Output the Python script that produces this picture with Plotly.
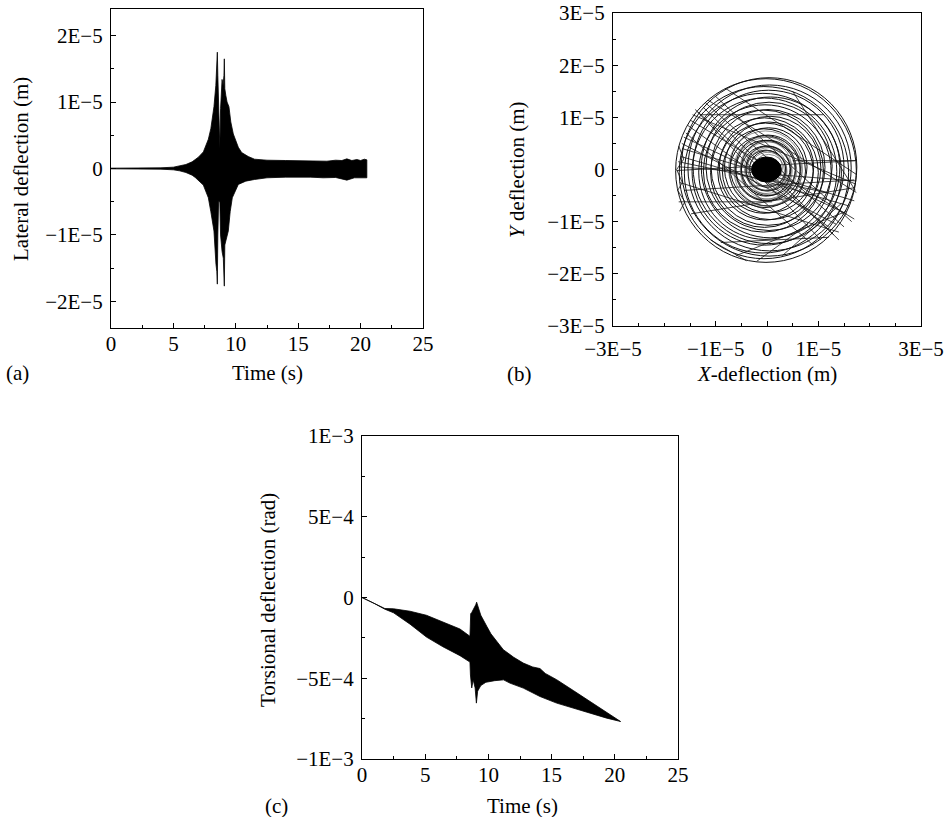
import plotly.graph_objects as go

# ---------------------------------------------------------------------------
# (a) Lateral deflection vs time: upper / lower envelope of the response band
#     (times in s, deflections in micrometres)
# ---------------------------------------------------------------------------
lat_t_upper = [0.0, 2.0, 4.0, 5.0, 5.5, 6.0, 6.5, 6.75, 7.0, 7.4, 7.8, 8.0, 8.25,
               8.4, 8.48, 8.52, 8.56, 8.62, 8.68, 8.72, 8.78, 8.85, 8.9, 8.98,
               9.05, 9.08, 9.12, 9.2, 9.3, 9.45, 9.6, 9.8, 9.94, 10.2, 10.47,
               11.0, 11.5, 12.5, 14.0, 15.0, 16.0, 17.0, 17.3, 18.0, 18.5, 18.9,
               19.3, 19.7, 20.0, 20.3, 20.5]
lat_upper = [0.05, 0.05, 0.1, 0.2, 0.35, 0.6, 1.0, 1.35, 1.7, 2.5, 4.4, 6.0, 9.3,
             12.5, 15.5, 17.5, 14.0, 8.0, 3.0, 3.0, 9.0, 12.5, 13.4, 12.5,
             14.0, 16.5, 12.0, 11.0, 10.0, 9.3, 7.0, 5.2, 4.4, 3.2, 2.4,
             1.8, 1.4, 1.25, 1.2, 1.2, 1.15, 1.2, 1.1, 1.25, 1.2, 1.45,
             1.2, 1.35, 1.2, 1.4, 1.3]
lat_t_lower = [0.0, 2.0, 4.0, 5.0, 5.5, 6.0, 6.5, 6.75, 7.0, 7.4, 7.8, 8.0, 8.25,
               8.41, 8.48, 8.52, 8.56, 8.62, 8.72, 8.78, 8.9, 9.0, 9.05, 9.08,
               9.12, 9.2, 9.4, 9.55, 9.72, 10.2, 10.8, 11.5, 12.5, 14.0, 16.0,
               17.0, 18.0, 18.9, 19.5, 20.5]
lat_lower = [-0.05, -0.05, -0.1, -0.2, -0.35, -0.6, -1.0, -1.35, -1.7, -2.5, -4.4,
             -6.5, -9.4, -14.4, -15.5, -17.4, -10.0, -5.0, -5.0, -10.0, -12.5,
             -13.5, -15.0, -17.7, -11.5, -10.9, -9.4, -6.5, -4.4, -2.4, -1.9,
             -1.65, -1.4, -1.3, -1.3, -1.4, -1.35, -1.75, -1.4, -1.4]

# ---------------------------------------------------------------------------
# (b) Whirl orbit: ring radii / centres and straight chords (micrometres)
# ---------------------------------------------------------------------------
orbit_ring_r = [17.6, 17.1, 16.5, 15.9, 15.3, 14.7, 14.1, 13.5, 12.9, 12.3,
                11.7, 11.1, 10.5, 9.9, 9.3, 8.7, 8.1, 7.5, 6.9, 6.3,
                5.8, 5.3, 4.8, 4.3, 3.9, 3.5]
orbit_ring_cx = [-0.2, 0.4, -0.6, 0.5, -0.8, 0.3, -0.5, 0.7, -0.4, 0.4,
                 -0.7, 0.2, -0.5, 0.6, -0.3, 0.4, -0.6, 0.3, -0.4, 0.2,
                 -0.3, 0.3, -0.2, 0.2, -0.2, 0.1]
orbit_ring_cy = [-0.2, 0.5, -0.6, 0.3, -0.7, 0.5, -0.4, 0.4, -0.5, 0.6,
                 -0.3, 0.4, -0.6, 0.3, -0.4, 0.4, -0.3, 0.5, -0.4, 0.3,
                 -0.2, 0.3, -0.3, 0.2, -0.2, 0.1]
# faint, tightly packed inner loops around the core
orbit_fine_r = [3.1, 3.4, 3.7, 4.1, 4.5, 5.0, 5.5, 6.0, 6.6, 7.2]
orbit_fine_cx = [0.3, -0.4, 0.2, -0.3, 0.4, -0.2, 0.3, -0.4, 0.2, -0.3]
orbit_fine_cy = [-0.2, 0.3, -0.4, 0.2, -0.3, 0.4, -0.2, 0.3, -0.4, 0.2]
orbit_core_rx = 2.9
orbit_core_ry = 2.4
orbit_core_c = (-0.1, 0.0)

orbit_chord_x0 = [-17.6, -17.0, -17.2, -14.0, -11.5, -15.5, -16.2, -13.0, -2.0,
                  17.4, -16.8, -12.5, -16.0, 5.0, -15.0, -10.0, -17.0, -14.5,
                  -9.0, -16.5, 3.0, -13.5, -16.6, -12.0, -15.8, -8.0, -17.3,
                  -14.8, -6.0, -11.0]
orbit_chord_y0 = [-0.2, 0.5, -6.2, 11.5, 13.3, 8.5, 6.2, 10.5, -17.6,
                  1.7, 2.5, 12.0, -4.0, 15.0, 9.5, 14.0, -2.5, 10.5,
                  -14.0, 4.0, -16.5, 11.0, 5.0, 12.8, 7.0, 15.5, 1.5,
                  -8.5, -16.5, -13.5]
orbit_chord_x1 = [17.4, 17.4, 1.0, 13.0, 17.4, 12.0, 15.5, 11.0, 8.0,
                  5.0, 16.0, 14.0, 17.0, 17.2, 17.0, 16.5, 14.0, 17.3,
                  12.0, 17.0, 14.5, 10.5, 13.5, 15.0, 9.0, 17.5, 12.0,
                  17.0, 15.5, -4.0]
orbit_chord_y1 = [1.7, -2.2, -6.2, -12.5, -4.4, -11.0, -8.5, 10.5, -10.5,
                  1.7, -7.0, -13.5, -2.0, -4.0, -9.5, -10.0, -12.0, -2.8,
                  -13.0, -6.0, -6.5, -13.5, -10.5, -11.0, -14.5, -1.0, -4.5,
                  -3.5, -8.0, -17.5]
orbit_zig_x = [-17.2, -16.2, -17.6, -16.5, -17.4, -16.0, -17.0]
orbit_zig_y = [4.5, 2.0, 0.0, -2.5, -4.0, -6.2, -8.0]

# ---------------------------------------------------------------------------
# (c) Torsional deflection vs time: envelope of the band (units of 1e-4 rad)
# ---------------------------------------------------------------------------
tor_t_upper = [0.0, 1.0, 1.8, 2.5, 3.8, 5.1, 6.4, 7.75, 8.54, 8.6, 8.68, 8.85,
               9.0, 9.07, 9.15, 9.4, 9.87, 10.2, 10.66, 11.18, 12.0, 12.76,
               13.5, 14.08, 14.5, 15.4, 16.72, 18.04, 19.36, 20.46]
tor_upper = [0.0, -0.38, -0.68, -0.7, -0.85, -1.1, -1.5, -1.95, -2.4, -1.0,
             -0.93, -0.7, -0.45, -0.29, -0.5, -1.1, -1.78, -2.25, -2.71, -3.23,
             -3.7, -4.06, -4.3, -4.4, -4.7, -5.09, -5.76, -6.44, -7.16, -7.68]
tor_t_lower = [0.0, 1.0, 1.8, 2.5, 3.8, 5.1, 6.4, 7.75, 8.54, 8.58, 8.68, 8.8,
               8.95, 9.05, 9.15, 9.4, 9.8, 10.5, 11.2, 11.7, 12.76, 14.08,
               15.4, 16.72, 18.04, 19.36, 20.46]
tor_lower = [0.0, -0.38, -0.72, -0.95, -1.65, -2.45, -3.05, -3.6, -4.0, -4.8,
             -5.6, -5.1, -5.6, -6.54, -5.8, -5.45, -5.25, -5.15, -5.1, -5.3,
             -5.61, -6.13, -6.54, -6.85, -7.16, -7.47, -7.68]

# Axis tick values and labels
time_ticks = [0, 5, 10, 15, 20, 25]
time_labels = ["0", "5", "10", "15", "20", "25"]
lat_ticks = [2e-5, 1e-5, 0, -1e-5, -2e-5]
lat_labels = ["2E\u22125", "1E\u22125", "0", "\u22121E\u22125", "\u22122E\u22125"]
orb_y_ticks = [3e-5, 2e-5, 1e-5, 0, -1e-5, -2e-5, -3e-5]
orb_y_labels = ["3E\u22125", "2E\u22125", "1E\u22125", "0", "\u22121E\u22125",
                "\u22122E\u22125", "\u22123E\u22125"]
orb_x_ticks = [-3e-5, -1e-5, 0, 1e-5, 3e-5]
orb_x_labels = ["\u22123E\u22125", "\u22121E\u22125", "0", "1E\u22125", "3E\u22125"]
tor_ticks = [1e-3, 5e-4, 0, -5e-4, -1e-3]
tor_labels = ["1E\u22123", "5E\u22124", "0", "\u22125E\u22124", "\u22121E\u22123"]

UM = 1e-6      # micrometre -> metre
TOR = 1e-4     # envelope unit -> rad

FONT = '"Liberation Serif", "Times New Roman", Times, serif'
BLACK = "#000000"

fig = go.Figure()

# (a) filled response band
fig.add_trace(go.Scatter(
    x=lat_t_upper + lat_t_lower[::-1],
    y=[v * UM for v in lat_upper] + [v * UM for v in lat_lower[::-1]],
    mode="lines", fill="toself", fillcolor=BLACK,
    line=dict(color=BLACK, width=0.8),
    xaxis="x", yaxis="y", hoverinfo="skip", showlegend=False))

# (b) chords of the orbit path
cx, cy = [], []
for a, b, c, d in zip(orbit_chord_x0, orbit_chord_y0, orbit_chord_x1, orbit_chord_y1):
    cx += [a * UM, c * UM, None]
    cy += [b * UM, d * UM, None]
cx += [v * UM for v in orbit_zig_x]
cy += [v * UM for v in orbit_zig_y]
fig.add_trace(go.Scatter(
    x=cx, y=cy, mode="lines", line=dict(color="#111111", width=0.8),
    xaxis="x2", yaxis="y2", hoverinfo="skip", showlegend=False, connectgaps=False))

# (c) filled torsional band
fig.add_trace(go.Scatter(
    x=tor_t_upper + tor_t_lower[::-1],
    y=[v * TOR for v in tor_upper] + [v * TOR for v in tor_lower[::-1]],
    mode="lines", fill="toself", fillcolor=BLACK,
    line=dict(color=BLACK, width=0.8),
    xaxis="x3", yaxis="y3", hoverinfo="skip", showlegend=False))

# (b) orbit rings and dense core drawn as circles in data coordinates
shapes = []
for r, x0, y0 in zip(orbit_ring_r, orbit_ring_cx, orbit_ring_cy):
    shapes.append(dict(type="circle", xref="x2", yref="y2",
                       x0=(x0 - r) * UM, x1=(x0 + r) * UM,
                       y0=(y0 - r) * UM, y1=(y0 + r) * UM,
                       line=dict(color="#111111", width=1)))
for r, x0, y0 in zip(orbit_fine_r, orbit_fine_cx, orbit_fine_cy):
    shapes.append(dict(type="circle", xref="x2", yref="y2",
                       x0=(x0 - r) * UM, x1=(x0 + r) * UM,
                       y0=(y0 - r) * UM, y1=(y0 + r) * UM,
                       line=dict(color="#444444", width=0.6)))
shapes.append(dict(type="circle", xref="x2", yref="y2",
                   x0=(orbit_core_c[0] - orbit_core_rx) * UM,
                   x1=(orbit_core_c[0] + orbit_core_rx) * UM,
                   y0=(orbit_core_c[1] - orbit_core_ry) * UM,
                   y1=(orbit_core_c[1] + orbit_core_ry) * UM,
                   fillcolor=BLACK, line=dict(color=BLACK, width=1)))


def axis(domain, anchor, rng, tickvals, ticktext, minor_dtick, standoff):
    return dict(
        domain=domain, anchor=anchor, range=rng, autorange=False, automargin=False,
        tickmode="array", tickvals=tickvals, ticktext=ticktext,
        ticks="inside", ticklen=5, tickwidth=1, tickcolor=BLACK,
        minor=dict(ticks="inside", ticklen=3, tickwidth=1, tickcolor=BLACK,
                   tickmode="linear", tick0=0, dtick=minor_dtick, showgrid=False),
        showline=True, linecolor=BLACK, linewidth=1.2, mirror=True,
        showgrid=False, zeroline=False, ticklabelstandoff=standoff,
        tickfont=dict(family=FONT, size=21, color=BLACK), fixedrange=True)


W, H = 952, 817
XS, YS = -3, 3   # tick-label standoffs for horizontal / vertical axes
XS_ORBIT = 4     # orbit x labels sit a little lower, clear of the y labels
layout = dict(
    width=W, height=H, margin=dict(l=0, r=0, t=0, b=0, pad=0), autosize=False,
    paper_bgcolor="white", plot_bgcolor="white", showlegend=False,
    font=dict(family=FONT, size=21, color=BLACK),
    xaxis=axis([111 / W, 423 / W], "y", [0, 25], time_ticks, time_labels, 2.5, XS),
    yaxis=axis([1 - 328 / H, 1 - 9 / H], "x", [-2.4e-5, 2.4e-5], lat_ticks, lat_labels, 0.5e-5, YS),
    xaxis2=axis([613 / W, 921 / W], "y2", [-3e-5, 3e-5], orb_x_ticks, orb_x_labels, 0.5e-5, XS_ORBIT),
    yaxis2=axis([1 - 326 / H, 1 - 13 / H], "x2", [-3e-5, 3e-5], orb_y_ticks, orb_y_labels, 0.5e-5, YS),
    xaxis3=axis([362 / W, 678 / W], "y3", [0, 25], time_ticks, time_labels, 2.5, XS),
    yaxis3=axis([1 - 759 / H, 1 - 436 / H], "x3", [-1e-3, 1e-3], tor_ticks, tor_labels, 2.5e-4, YS),
    shapes=shapes,
)


def label(text, x, y, angle=0):
    return dict(text=text, x=x / W, y=1 - y / H, xref="paper", yref="paper",
                showarrow=False, textangle=angle, xanchor="center", yanchor="middle",
                font=dict(family=FONT, size=21, color=BLACK))


layout["annotations"] = [
    label("Lateral deflection (m)", 21, 169, -90),
    label("Time (s)", 267, 373),
    label("(a)", 17, 373),
    label("<i>Y</i> deflection (m)", 517, 170, -90),
    label("<i>X</i>-deflection (m)", 767, 374),
    label("(b)", 519, 374),
    label("Torsional deflection (rad)", 268, 600, -90),
    label("Time (s)", 522, 806),
    label("(c)", 276, 806),
]

fig.update_layout(**layout)
fig.write_html("out.html")
